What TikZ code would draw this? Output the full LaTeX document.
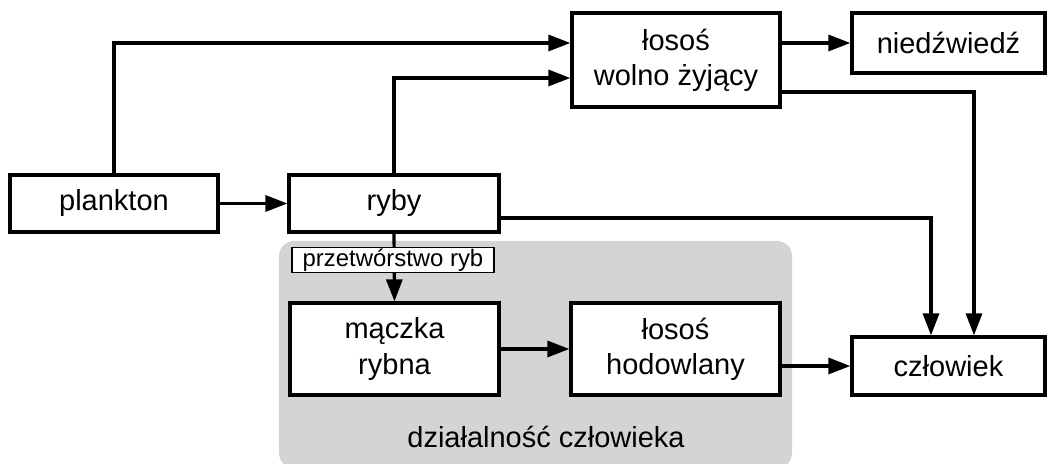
\documentclass[tikz,border=0pt]{standalone}
\usepackage{fontspec}
\setmainfont{Liberation Sans}
\usetikzlibrary{arrows.meta}
\definecolor{bggray}{gray}{0.83}

\begin{document}
\begin{tikzpicture}[
	box/.style={rectangle,draw,line width=1.8pt,fill=white,align=center,inner sep=0pt},
	arr/.style={line width=1.8pt,-{Triangle[length=0.44cm,width=0.32cm]}},
	font=\fontsize{16.5}{20}\selectfont]
	\useasboundingbox (0,0) rectangle (21.06,-9.28);
	
	% pole dzialalnosci czlowieka
	\fill[bggray,rounded corners=0.3cm] (5.58,-4.82) rectangle (15.84,-9.36);
	\node (D) at (10.92,-8.74) {działalność człowieka};
	
	\begin{scope}[every node/.style={box}]
		\node[minimum width=4.16cm,minimum height=1.14cm] (P) at (2.28,-4.07) {plankton};
		\node[minimum width=4.2cm,minimum height=1.14cm] (R) at (7.88,-4.07) {ryby};
		\node[minimum width=4.16cm,minimum height=1.88cm] (W) at (13.52,-1.2) {łosoś\\wolno żyjący};
		\node[minimum width=3.86cm,minimum height=1.2cm] (N) at (18.97,-0.86) {niedźwiedź};
		\node[minimum width=4.18cm,minimum height=1.84cm] (M) at (7.89,-6.98) {mączka\\rybna};
		\node[minimum width=4.18cm,minimum height=1.84cm] (H) at (13.51,-6.98) {łosoś\\hodowlany};
		\node[minimum width=3.86cm,minimum height=1.16cm] (C) at (18.97,-7.32) {człowiek};
	\end{scope}
	
	\begin{scope}[every path/.style={arr}]
		\draw (P.north) |- ([yshift=0.34cm]W.west);
		\draw (P.east) -- (R.west);
		\draw (R.north) |- ([yshift=-0.36cm]W.west);
		\draw ([yshift=0.34cm]W.east) -- (N.west);
		\draw ([yshift=-0.64cm]W.east) -| ([xshift=0.51cm]C.north);
		\draw ([yshift=-0.29cm]R.east) -| ([xshift=-0.35cm]C.north);
		\draw (R.south) -- (M.north);
		\draw (M.east) -- (H.west);
		\draw (H.east |- C.west) -- (C.west);
	\end{scope}
	
	\node[box,line width=1pt,minimum width=4.04cm,minimum height=0.5cm,font=\fontsize{13.6}{16}\selectfont] (T) at (7.86,-5.2) {przetwórstwo ryb};
\end{tikzpicture}
\end{document}
